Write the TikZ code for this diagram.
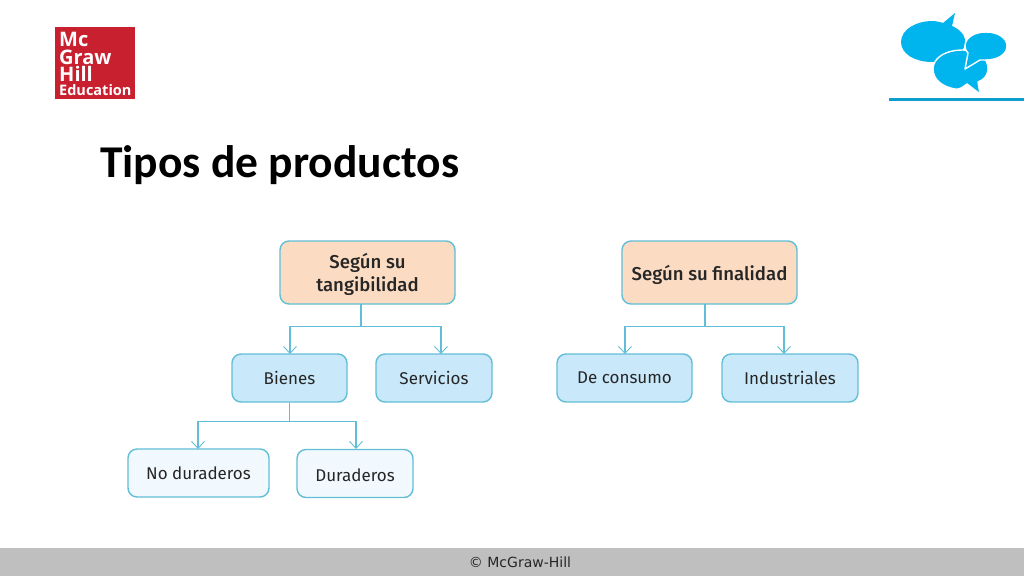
\documentclass[tikz,border=0pt]{standalone}
\usepackage{fontspec}
\setmainfont{Carlito}
\newfontfamily\boxfont{Fira Sans}
\newfontfamily\boxmed{Fira Sans Medium}
\newfontfamily\footfont{DejaVu Sans}
\newfontfamily\logofont{Open Sans}
\usetikzlibrary{arrows.meta}
\definecolor{peach}{HTML}{FBDCC3}
\definecolor{pale}{HTML}{C9E9FA}
\definecolor{paler}{HTML}{F1F9FE}
\definecolor{edge}{HTML}{62BED6}
\definecolor{cyanb}{HTML}{00B4EE}
\definecolor{logored}{HTML}{C8202E}
\newcommand{\lowered}[2]{\raisebox{-#1}[\height][\depth]{#2}}
\tikzset{
  x=1pt,y=-1pt,
  base/.style={draw=edge,line width=1.4pt,rounded corners=9pt,align=center,inner sep=0pt,
    font=\boxfont\fontsize{17}{23}\selectfont,text=black!85},
  topbox/.style={base,fill=peach,minimum width=175pt,minimum height=63pt,font=\boxmed\fontsize{18.6}{23}\selectfont},
  midbox/.style={base,fill=pale,minimum height=48pt},
  lowbox/.style={base,fill=paler,minimum height=48pt},
  link/.style={draw=edge,line width=1.5pt},
  linkto/.style={link,-{Straight Barb[length=7pt,width=13pt,line width=0.9pt]}},
  bub/.style={fill=cyanb,draw=white,line width=1.4pt,line join=round},
}
\begin{document}
\begin{tikzpicture}
\useasboundingbox (0,0) rectangle (1024,576);
\fill[white] (0,0) rectangle (1024,576);
% footer
\fill[black!25] (0,548) rectangle (1024,576);
\node[font=\footfont\fontsize{14}{16}\selectfont,text=black!85] (foot) at (520,562) {© McGraw-Hill};
% logo
\fill[logored] (55,27) rectangle (135,99);
\node[anchor=north west,inner sep=0pt,align=left,text=white,font=\logofont\bfseries\fontsize{20}{17.6}\selectfont] (lm) at (59,32) {Mc\\Graw\\Hill};
\node[anchor=base west,inner sep=0pt,text=white,font=\logofont\bfseries\fontsize{14.5}{15}\selectfont] (le) at (59,95) {Education};
% bubbles
\fill[cyanb] (901,42) .. controls (901,29) and (917,21) .. (932,21)
  .. controls (936,21) and (940,22) .. (943,23) -- (955,13) -- (952,26)
  .. controls (961,30) and (966,36) .. (965,44) .. controls (963,55) and (947,62) .. (932,62)
  .. controls (915,62) and (901,54) .. (901,42) -- cycle;
\path[bub] (933,69) .. controls (933,57) and (947,50) .. (962,50)
  .. controls (978,50) and (989,58) .. (988,70) .. controls (987,77) and (983,80) .. (978,82)
  -- (980,94) -- (967,84) .. controls (962,88) and (958,90) .. (955,89)
  .. controls (943,87) and (933,80) .. (933,69) -- cycle;
\path[bub] (965,46) .. controls (965,38) and (974,32) .. (986,32)
  .. controls (998,32) and (1007,38) .. (1007,46) .. controls (1007,54) and (998,60) .. (986,60)
  .. controls (984,60) and (982,60) .. (980,60) -- (965,69) -- (968,53)
  .. controls (966,51) and (965,49) .. (965,46) -- cycle;
\fill[cyanb!85!black!95] (889,97.5) rectangle (1024,100.5);
% title
\node[anchor=base west,inner sep=0pt,font=\bfseries\fontsize{45.5}{48}\selectfont,text=black] (title) at (100,177) {Tipos de productos};
% boxes
\node[topbox] (tang) at (367.5,272.5) {\lowered{1.5pt}{Según su}\\\lowered{1.5pt}{tangibilidad}};
\node[topbox] (fin) at (709.5,272.5) {\lowered{2pt}{Según su finalidad}};
\node[midbox,minimum width=115pt] (bienes) at (289.5,378) {Bienes};
\node[midbox,minimum width=116pt] (serv) at (434,378) {Servicios};
\node[midbox,minimum width=135pt] (cons) at (624.5,378) {De consumo};
\node[midbox,minimum width=136pt] (ind) at (790,378) {Industriales};
\node[lowbox,minimum width=141pt] (nod) at (198.5,473) {No duraderos};
\node[lowbox,minimum width=116pt] (dur) at (355,473.5) {\lowered{1.5pt}{Duraderos}};
% junctions
\coordinate (j1) at (361,326.5);
\coordinate (j1a) at (361,304);
\coordinate (j1l) at (290,326.5);
\coordinate (j1r) at (441,326.5);
\coordinate (t1l) at (290,354);
\coordinate (t1r) at (441,354);
\coordinate (j2a) at (705,304);
\coordinate (j2) at (705,326.5);
\coordinate (j2l) at (625,326.5);
\coordinate (j2r) at (784,326.5);
\coordinate (t2l) at (625,354);
\coordinate (t2r) at (784,354);
\coordinate (j3) at (289.5,421.5);
\coordinate (j3l) at (198,421.5);
\coordinate (j3r) at (356,421.5);
\coordinate (t3l) at (198,449);
\coordinate (t3r) at (356,449);
% connectors
\draw[link] (j1a) -- (j1);
\draw[linkto] (j1) -- (j1l) -- (t1l);
\draw[linkto] (j1) -- (j1r) -- (t1r);
\draw[link] (j2a) -- (j2);
\draw[linkto] (j2) -- (j2l) -- (t2l);
\draw[linkto] (j2) -- (j2r) -- (t2r);
\draw[link] (bienes.south) -- (j3);
\draw[linkto] (j3) -- (j3l) -- (t3l);
\draw[linkto] (j3) -- (j3r) -- (t3r);
\end{tikzpicture}
\end{document}
